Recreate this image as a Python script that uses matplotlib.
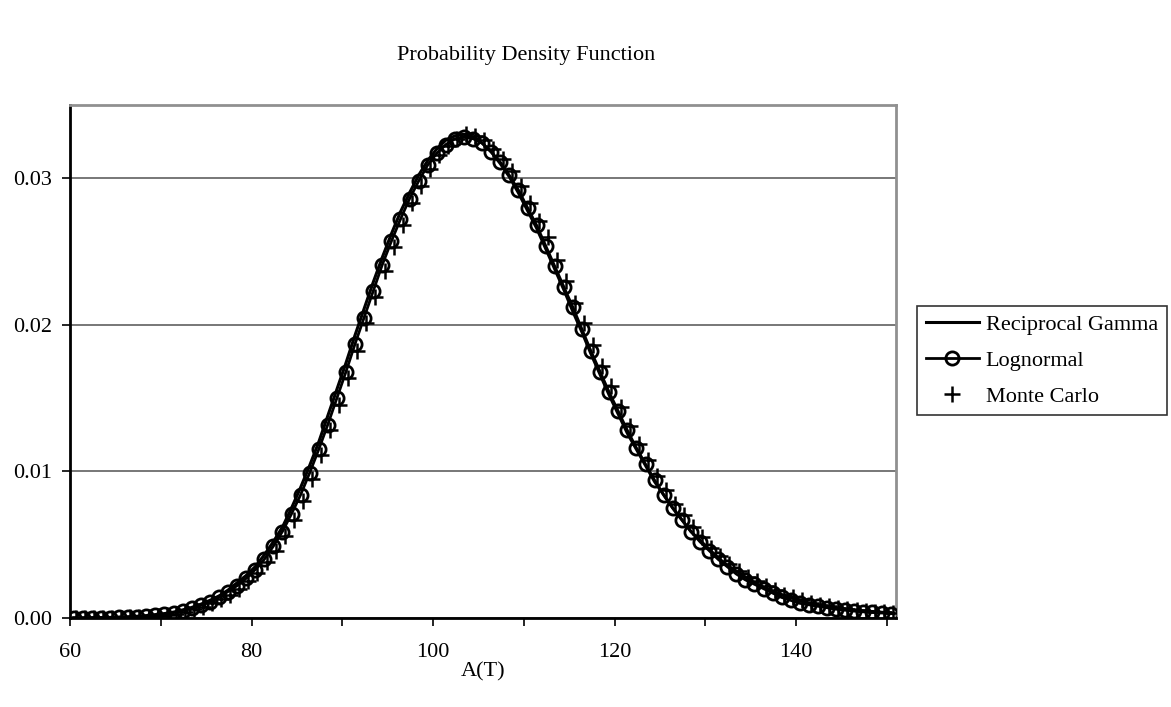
import numpy as np
import matplotlib.pyplot as plt

plt.rcParams["font.family"] = "Liberation Serif"
plt.rcParams["font.size"] = 16

# Grid of A(T) values (evaluation points of the densities)
a_t = np.arange(60, 151) + 0.4
a_t_mc = a_t + 0.25

# Reciprocal gamma density
recip_gamma = [
    0.00001, 0.00001, 0.00002, 0.00003, 0.00004, 0.00006, 0.00008, 0.00012, 0.00016, 0.00023,
    0.0003, 0.0004, 0.00055, 0.00072, 0.00094, 0.0012, 0.0015, 0.0019, 0.0024, 0.0029,
    0.0035, 0.0043, 0.0052, 0.0062, 0.0075, 0.0089, 0.0104, 0.0120, 0.0138, 0.0156,
    0.0174, 0.0193, 0.0211, 0.0229, 0.0246, 0.0262, 0.0277, 0.0290, 0.0302, 0.0312,
    0.0320, 0.0326, 0.0329, 0.0330, 0.0328, 0.0324, 0.0318, 0.0310, 0.0301, 0.0290,
    0.0278, 0.0266, 0.0252, 0.0238, 0.0224, 0.0209, 0.0195, 0.0180, 0.0166, 0.0152,
    0.0139, 0.0126, 0.0115, 0.0104, 0.0093, 0.0084, 0.0075, 0.0067, 0.0059, 0.0053,
    0.0047, 0.0041, 0.0036, 0.0032, 0.0028, 0.0024, 0.0021, 0.0018, 0.0016, 0.0014,
    0.0012, 0.0010, 0.0009, 0.0008, 0.0007, 0.00062, 0.00055, 0.00049, 0.00044, 0.00039,
    0.00035,
]

# Lognormal density
lognormal = [
    0.00001, 0.00001, 0.00002, 0.00002, 0.00003, 0.00005, 0.00007, 0.0001, 0.00014, 0.0002,
    0.00027, 0.00037, 0.0005, 0.00066, 0.00086, 0.0011, 0.0014, 0.0018, 0.0022, 0.0027,
    0.0033, 0.0040, 0.0049, 0.0059, 0.0071, 0.0084, 0.0099, 0.0115, 0.0132, 0.0150,
    0.0168, 0.0187, 0.0205, 0.0223, 0.0241, 0.0257, 0.0272, 0.0286, 0.0298, 0.0309,
    0.0317, 0.0323, 0.0327, 0.0328, 0.0327, 0.0324, 0.0318, 0.0311, 0.0302, 0.0292,
    0.0280, 0.0268, 0.0254, 0.0240, 0.0226, 0.0212, 0.0197, 0.0182, 0.0168, 0.0154,
    0.0141, 0.0128, 0.0116, 0.0105, 0.0094, 0.0084, 0.0075, 0.0067, 0.0059, 0.0052,
    0.0046, 0.0040, 0.0035, 0.0030, 0.0026, 0.0023, 0.0020, 0.0017, 0.0014, 0.0012,
    0.0010, 0.0009, 0.0008, 0.0007, 0.0006, 0.00053, 0.00047, 0.00042, 0.00038, 0.00034,
    0.0003,
]

# Monte Carlo estimate
monte_carlo = [
    0.0, 0.0, 0.00001, 0.00001, 0.00002, 0.00003, 0.00005, 0.00007, 0.0001, 0.00015,
    0.00022, 0.0003, 0.00043, 0.00058, 0.00078, 0.0010, 0.0013, 0.0016, 0.0020, 0.0025,
    0.0031, 0.0038, 0.0046, 0.0056, 0.0067, 0.0080, 0.0095, 0.0111, 0.0128, 0.0145,
    0.0164, 0.0182, 0.0201, 0.0219, 0.0237, 0.0253, 0.0268, 0.0283, 0.0295, 0.0306,
    0.0316, 0.0322, 0.0327, 0.0330, 0.0329, 0.0326, 0.0320, 0.0313, 0.0305, 0.0295,
    0.0283, 0.0271, 0.0260, 0.0244, 0.0230, 0.0215, 0.0201, 0.0186, 0.0172, 0.0158,
    0.0144, 0.0131, 0.0119, 0.0108, 0.0097, 0.0087, 0.0078, 0.0070, 0.0062, 0.0055,
    0.0048, 0.0042, 0.0037, 0.0032, 0.0028, 0.0025, 0.0022, 0.0019, 0.0016, 0.0014,
    0.0012, 0.0010, 0.0009, 0.0008, 0.0007, 0.0006, 0.00053, 0.00047, 0.00042, 0.00038,
    0.00034,
]

fig = plt.figure(figsize=(11.71, 7.07), dpi=100)
ax = fig.add_axes([0.0598, 0.1259, 0.7054, 0.7256])

ax.plot(a_t, lognormal, color="black", linewidth=2, marker="o", markersize=9.5,
        markerfacecolor="none", markeredgewidth=2, label="Lognormal", zorder=3)
ax.plot(a_t_mc, monte_carlo, linestyle="none", color="black", marker="+", markersize=11,
        markeredgewidth=1.8, label="Monte Carlo", zorder=4)
ax.plot(a_t, recip_gamma, color="black", linewidth=2.2, label="Reciprocal Gamma", zorder=5)

ax.set_xlim(60, 151)
ax.set_ylim(0, 0.035)
ax.set_xticks(np.arange(60, 151, 10))
ax.set_xticklabels(["60", "", "80", "", "100", "", "120", "", "140", ""])
ax.set_yticks([0.0, 0.01, 0.02, 0.03])
ax.set_yticklabels(["0.00", "0.01", "0.02", "0.03"])
ax.tick_params(axis="both", direction="out", length=6, width=1.2, color="black")
ax.tick_params(axis="x", pad=12)
ax.tick_params(axis="y", pad=7)
ax.yaxis.grid(True, color="#606060", linewidth=1.2)
ax.set_axisbelow(True)

ax.spines["left"].set_linewidth(2)
ax.spines["bottom"].set_linewidth(2)
ax.spines["top"].set_color("#909090")
ax.spines["right"].set_color("#909090")
ax.spines["top"].set_linewidth(2)
ax.spines["right"].set_linewidth(2)

ax.set_xlabel("A(T)", labelpad=0)
fig.text(0.449, 0.922, "Probability Density Function", ha="center", va="center", fontsize=16)

handles, labels = ax.get_legend_handles_labels()
order = [2, 0, 1]
leg = fig.legend([handles[i] for i in order], [labels[i] for i in order],
                 loc="center left", bbox_to_anchor=(0.783, 0.490),
                 frameon=True, fancybox=False, edgecolor="black", fontsize=16,
                 handlelength=2.4, handletextpad=0.3, borderpad=0.4, labelspacing=0.68,
                 borderaxespad=0)
leg.get_frame().set_linewidth(1.2)

fig.savefig("out.png", dpi=100)
